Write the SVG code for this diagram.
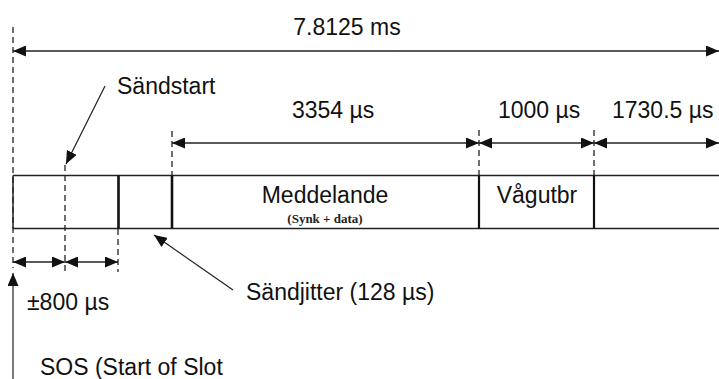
<svg xmlns="http://www.w3.org/2000/svg" width="719" height="379" viewBox="0 0 719 379">
<defs>
<style>
.t{font-family:"Liberation Sans",Arial,sans-serif;font-size:23px;fill:#111}
.s{font-family:"Liberation Serif","Times New Roman",serif;font-size:13px;font-weight:bold;fill:#222}
.dash{stroke:#222;stroke-width:1.3;stroke-dasharray:6,4;fill:none}
.dim{stroke:#222;stroke-width:1.5;fill:none;marker-start:url(#a);marker-end:url(#a)}
.ptr{stroke:#222;stroke-width:1.2;fill:none;marker-end:url(#a)}
.box{stroke:#222;stroke-width:1.5;fill:none}
.thick{stroke:#111;stroke-width:2.6}
.med{stroke:#111;stroke-width:2.2}
</style>
<marker id="a" viewBox="0 0 13 11" refX="13" refY="5.5" markerWidth="13" markerHeight="11" markerUnits="userSpaceOnUse" orient="auto-start-reverse">
<path d="M0,0 L13,5.5 L0,11 Z" fill="#111"/>
</marker>
</defs>
<rect width="719" height="379" fill="#fff"/>

<g id="guides">
<line class="dash" x1="13" y1="27" x2="13" y2="268"/>
<line class="dash" x1="65" y1="165" x2="65" y2="272"/>
<line class="dash" x1="118" y1="229" x2="118" y2="272"/>
<line class="dash" x1="172" y1="131" x2="172" y2="175"/>
<line class="dash" x1="479" y1="130" x2="479" y2="175"/>
<line class="dash" x1="594" y1="130" x2="594" y2="175"/>
</g>

<g id="slot">
<line class="box" x1="13" y1="175.5" x2="719" y2="175.5"/>
<line class="box" x1="13" y1="228.5" x2="719" y2="228.5"/>
<line class="box" x1="13" y1="175.5" x2="13" y2="228.5"/>
<line class="thick" x1="118.5" y1="175.5" x2="118.5" y2="228.5"/>
<line class="thick" x1="172" y1="175.5" x2="172" y2="228.5"/>
<line class="med" x1="479" y1="175.5" x2="479" y2="228.5"/>
<line class="med" x1="594" y1="175.5" x2="594" y2="228.5"/>
</g>

<g id="meddelande">
<text class="t" x="325" y="203" text-anchor="middle">Meddelande</text>
<text class="s" x="325" y="223" text-anchor="middle">(Synk + data)</text>
</g>
<g id="vagutbr">
<text class="t" x="537" y="203" text-anchor="middle">Vågutbr</text>
</g>

<g id="connectors">
<line class="dim" x1="13" y1="51" x2="719" y2="51"/>
<line class="dim" x1="172" y1="143" x2="479" y2="143"/>
<line class="dim" x1="479" y1="143" x2="594" y2="143"/>
<line class="dim" x1="594" y1="143" x2="719" y2="143"/>
<line class="dim" x1="13" y1="262" x2="65" y2="262"/>
<line class="dim" x1="65" y1="262" x2="118" y2="262"/>
<line class="ptr" x1="105" y1="86" x2="66" y2="164"/>
<line class="ptr" x1="233" y1="290" x2="154" y2="235"/>
<line class="ptr" x1="13" y1="379" x2="13" y2="273"/>
</g>

<g id="labels">
<text class="t" x="347" y="35" text-anchor="middle">7.8125 ms</text>
<text class="t" x="117" y="94">Sändstart</text>
<text class="t" x="292" y="118">3354 µs</text>
<text class="t" x="498" y="118">1000 µs</text>
<text class="t" x="612" y="118">1730.5 µs</text>
<text class="t" x="27" y="310">±800 µs</text>
<text class="t" x="246" y="300">Sändjitter (128 µs)</text>
<text class="t" x="40" y="375">SOS (Start of Slot</text>
</g>
</svg>
